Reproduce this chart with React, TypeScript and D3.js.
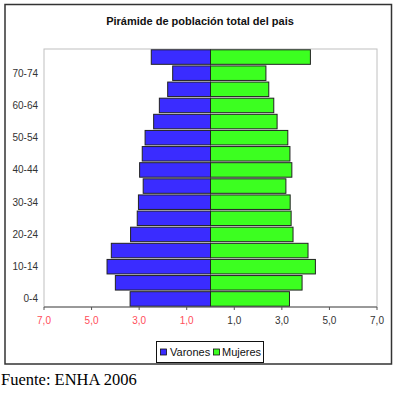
import React from "react";
import * as d3 from "d3";

// age groups, bottom to top
const ageGroups = ["0-4", "5-9", "10-14", "15-19", "20-24", "25-29", "30-34", "35-39",
  "40-44", "45-49", "50-54", "55-59", "60-64", "65-69", "70-74", "75+"];
// percent of total population
const varones = [3.38, 4.0, 4.35, 4.17, 3.36, 3.08, 3.03, 2.83, 2.98, 2.87, 2.75, 2.39, 2.15, 1.8, 1.59, 2.49];
const mujeres = [3.32, 3.85, 4.41, 4.1, 3.47, 3.39, 3.35, 3.17, 3.42, 3.34, 3.25, 2.8, 2.66, 2.45, 2.33, 4.2];
const ticks = [-7, -5, -3, -1, 1, 3, 5, 7];
const shownLabels = ["0-4", "10-14", "20-24", "30-34", "40-44", "50-54", "60-64", "70-74"];

const W = 400, H = 395;
const plot = {left: 44, right: 377, top: 49, bottom: 307};
const blue = "#3a2cff";
const green = "#3cff20";

export default function App() {
  const x = d3.scaleLinear().domain([-7, 7]).range([plot.left, plot.right]);
  const y = d3.scaleBand().domain([...ageGroups].reverse()).range([plot.top, plot.bottom]).paddingInner(0.1).paddingOuter(0.05);
  const fmt = (v: number) => Math.abs(v).toFixed(1).replace(".", ",");
  const font = "Arial, 'Liberation Sans', sans-serif";

  return (
    <svg width={W} height={H} style={{position: "absolute", left: 0, top: 0, background: "#fff"}}>
      <rect x={5} y={4.5} width={386.5} height={359.5} fill="#fff" stroke="#333" strokeWidth={1.5} />
      <text x={200} y={24.5} textAnchor="middle" fontFamily={font} fontSize={11} fontWeight="bold" fill="#111">
        Pirámide de población total del pais
      </text>
      <rect x={plot.left} y={plot.top} width={plot.right - plot.left} height={plot.bottom - plot.top}
        fill="none" stroke="#c0c0c0" strokeWidth={1} />
      {ageGroups.map((g, i) => (
        <g key={g}>
          <rect x={x(-varones[i])} y={y(g)} width={x(0) - x(-varones[i])} height={y.bandwidth()}
            fill={blue} stroke="#222" strokeWidth={1} />
          <rect x={x(0)} y={y(g)} width={x(mujeres[i]) - x(0)} height={y.bandwidth()}
            fill={green} stroke="#222" strokeWidth={1} />
        </g>
      ))}
      {shownLabels.map((g) => (
        <text key={g} x={38} y={(y(g) as number) + y.bandwidth() / 2} dy="0.35em" textAnchor="end"
          fontFamily={font} fontSize={10} fill="#333">{g}</text>
      ))}
      <line x1={plot.left} x2={plot.right} y1={plot.bottom} y2={plot.bottom} stroke="#555" />
      {ticks.map((t) => (
        <g key={t}>
          <line x1={x(t)} x2={x(t)} y1={plot.bottom} y2={plot.bottom + 3} stroke="#555" />
          <text x={x(t)} y={320} dy="0.35em" textAnchor="middle" fontFamily={font} fontSize={10}
            fill={t < 0 ? "#ff4d5a" : "#333"}>{fmt(t)}</text>
        </g>
      ))}
      <rect x={156.5} y={341.5} width={107} height={21} fill="#fff" stroke="#111" strokeWidth={1} />
      <rect x={160.5} y={349} width={6} height={6} fill={blue} stroke="#111" strokeWidth={0.8} />
      <text x={170} y={352} dy="0.35em" fontFamily={font} fontSize={11} fill="#111">Varones</text>
      <rect x={213.5} y={349} width={6} height={6} fill={green} stroke="#111" strokeWidth={0.8} />
      <text x={222} y={352} dy="0.35em" fontFamily={font} fontSize={11} fill="#111">Mujeres</text>
      <text x={1} y={385} fontFamily="'Liberation Serif', 'Times New Roman', serif" fontSize={16.5} fill="#000">
        Fuente: ENHA 2006
      </text>
    </svg>
  );
}
